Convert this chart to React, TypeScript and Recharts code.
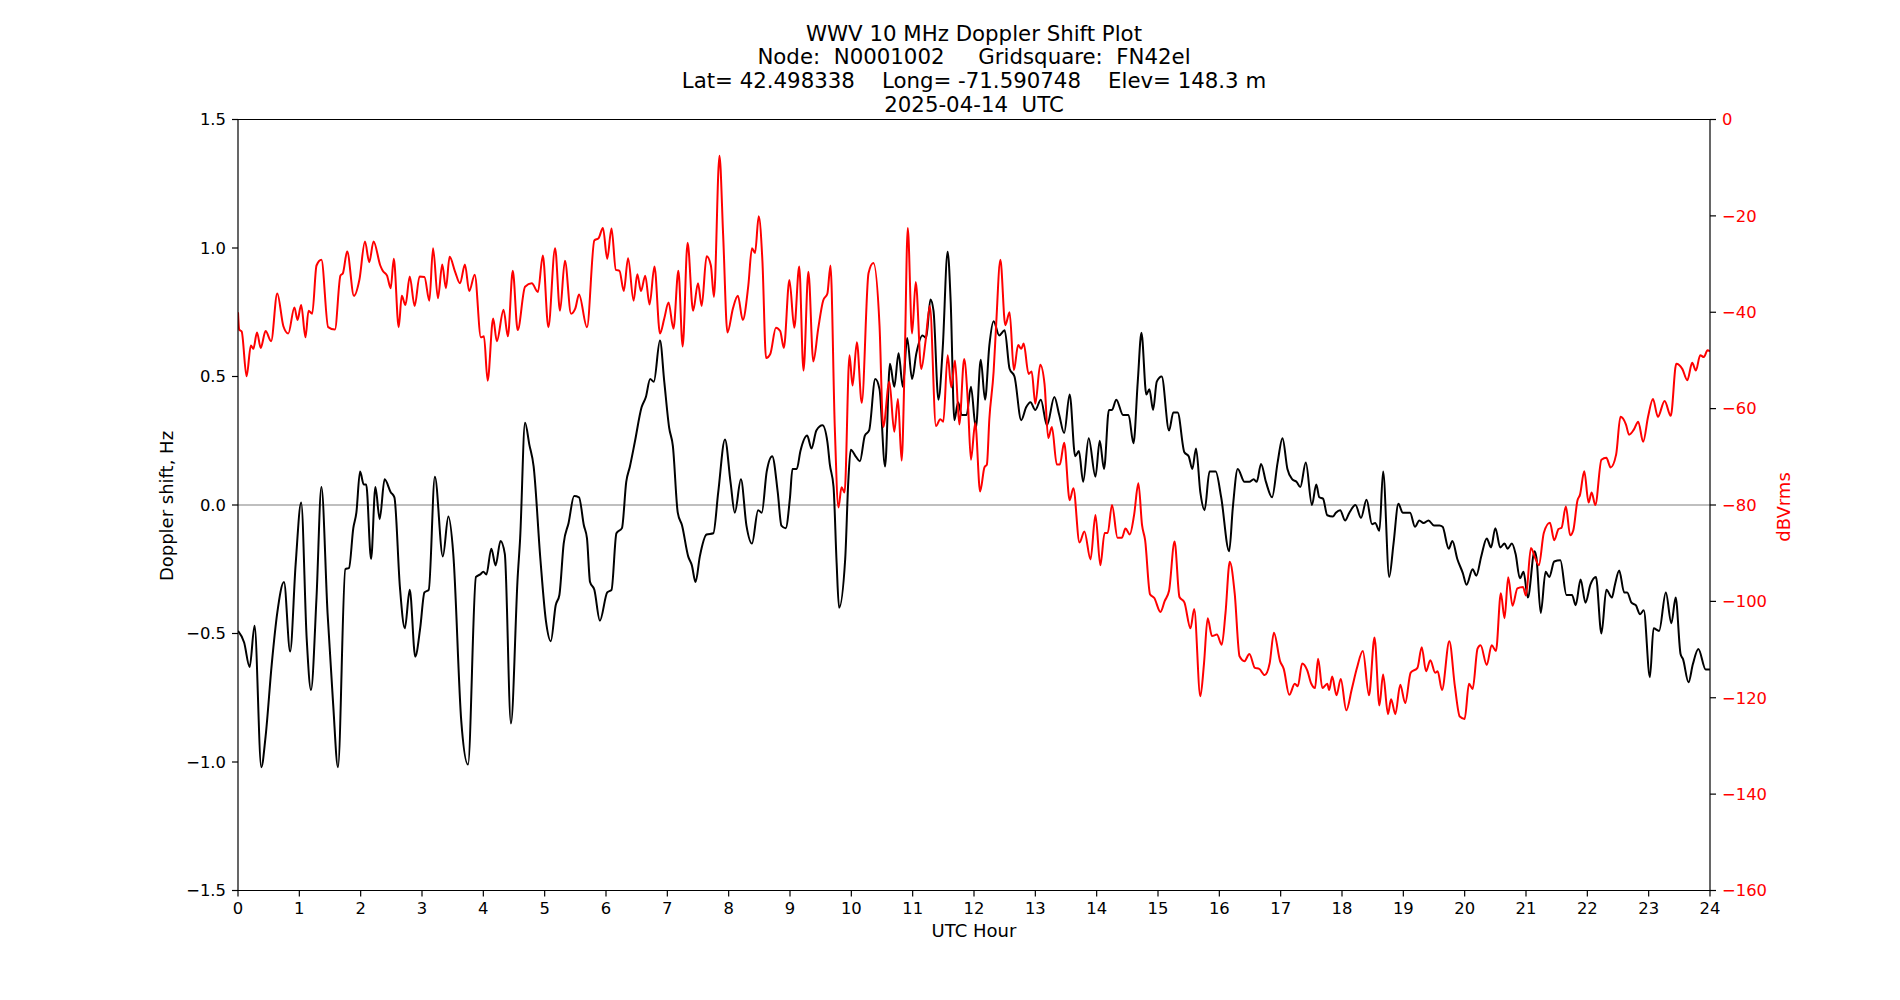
import { LineChart, Line, XAxis, YAxis, ReferenceLine } from 'recharts';

// Doppler shift trace (Hz), black, left axis
const dopplerHours = [
  0.0, 0.1, 0.19, 0.27, 0.38, 0.45, 0.55, 0.64, 0.75, 0.85, 0.94, 1.03, 1.12, 1.19, 1.28, 1.36, 1.46, 1.55, 1.63, 1.75,
  1.81, 1.88, 1.93, 1.99, 2.05, 2.09, 2.17, 2.24, 2.31, 2.39, 2.49, 2.55, 2.64, 2.72, 2.8, 2.89, 2.97, 3.04, 3.11, 3.21,
  3.34, 3.43, 3.51, 3.64, 3.75, 3.88, 3.95, 4.0, 4.05, 4.13, 4.2, 4.28, 4.35, 4.45, 4.56, 4.6, 4.68, 4.75, 4.82, 4.93,
  5.02, 5.1, 5.18, 5.24, 5.31, 5.39, 5.48, 5.56, 5.64, 5.69, 5.74, 5.81, 5.9, 6.02, 6.09, 6.17, 6.26, 6.33, 6.39, 6.47,
  6.58, 6.65, 6.72, 6.78, 6.88, 6.95, 7.03, 7.09, 7.17, 7.24, 7.34, 7.4, 7.46, 7.53, 7.64, 7.75, 7.83, 7.94, 8.03, 8.1,
  8.2, 8.29, 8.38, 8.48, 8.54, 8.62, 8.71, 8.8, 8.86, 8.93, 9.0, 9.04, 9.11, 9.17, 9.28, 9.35, 9.43, 9.53, 9.61, 9.65,
  9.71, 9.76, 9.8, 9.9, 9.95, 9.99, 10.08, 10.14, 10.22, 10.29, 10.39, 10.46, 10.55, 10.63, 10.7, 10.77, 10.84, 10.91, 10.99, 11.06,
  11.16, 11.22, 11.29, 11.34, 11.42, 11.49, 11.57, 11.62, 11.68, 11.74, 11.8, 11.88, 11.95, 12.03, 12.11, 12.18, 12.25, 12.32, 12.41, 12.5,
  12.58, 12.66, 12.77, 12.85, 12.92, 13.0, 13.09, 13.19, 13.31, 13.39, 13.47, 13.56, 13.65, 13.71, 13.78, 13.87, 13.98, 14.05, 14.12, 14.2,
  14.25, 14.32, 14.43, 14.52, 14.6, 14.67, 14.73, 14.81, 14.86, 14.92, 14.98, 15.06, 15.18, 15.25, 15.32, 15.43, 15.5, 15.56, 15.62, 15.69,
  15.76, 15.84, 15.94, 16.03, 16.16, 16.22, 16.3, 16.41, 16.49, 16.56, 16.61, 16.68, 16.76, 16.86, 16.95, 17.03, 17.11, 17.19, 17.26, 17.32,
  17.41, 17.51, 17.58, 17.63, 17.69, 17.76, 17.85, 17.9, 17.97, 18.05, 18.12, 18.22, 18.31, 18.4, 18.49, 18.54, 18.61, 18.67, 18.77, 18.84,
  18.92, 18.99, 19.11, 19.19, 19.26, 19.33, 19.41, 19.5, 19.59, 19.64, 19.74, 19.8, 19.88, 19.97, 20.03, 20.13, 20.19, 20.27, 20.36, 20.43,
  20.5, 20.58, 20.65, 20.7, 20.77, 20.83, 20.9, 20.96, 21.03, 21.14, 21.17, 21.24, 21.32, 21.38, 21.46, 21.56, 21.66, 21.75, 21.81, 21.89,
  21.97, 22.05, 22.14, 22.23, 22.31, 22.4, 22.45, 22.52, 22.6, 22.65, 22.72, 22.79, 22.86, 22.92, 23.02, 23.08, 23.17, 23.28, 23.37, 23.44,
  23.52, 23.56, 23.65, 23.72, 23.81, 23.93, 24.0,
];
const dopplerValues = [
  -0.49, -0.535, -0.63, -0.47, -1.02, -0.9, -0.62, -0.42, -0.3, -0.57, -0.23, 0.01, -0.52, -0.72, -0.36, 0.07, -0.42, -0.77, -1.02, -0.25,
  -0.245, -0.09, -0.03, 0.13, 0.08, 0.08, -0.21, 0.07, -0.055, 0.1, 0.05, 0.03, -0.32, -0.48, -0.33, -0.59, -0.48, -0.34, -0.33, 0.11,
  -0.2, -0.045, -0.19, -0.84, -1.01, -0.28, -0.27, -0.26, -0.27, -0.17, -0.235, -0.14, -0.19, -0.85, -0.28, -0.13, 0.32, 0.235, 0.15, -0.21,
  -0.45, -0.53, -0.39, -0.35, -0.15, -0.07, 0.035, 0.03, -0.08, -0.13, -0.3, -0.33, -0.45, -0.34, -0.33, -0.11, -0.09, 0.09, 0.15, 0.245,
  0.38, 0.42, 0.49, 0.48, 0.64, 0.48, 0.3, 0.23, -0.03, -0.08, -0.2, -0.235, -0.3, -0.2, -0.115, -0.11, 0.05, 0.255, 0.09, -0.03,
  0.1, -0.08, -0.15, -0.02, -0.03, 0.13, 0.19, 0.05, -0.08, -0.09, 0.03, 0.14, 0.14, 0.21, 0.27, 0.22, 0.29, 0.31, 0.245, 0.157,
  0.07, -0.225, -0.4, -0.21, 0.09, 0.215, 0.186, 0.17, 0.27, 0.29, 0.49, 0.45, 0.15, 0.55, 0.46, 0.59, 0.46, 0.65, 0.49, 0.59,
  0.66, 0.65, 0.8, 0.755, 0.41, 0.61, 0.985, 0.79, 0.33, 0.4, 0.35, 0.35, 0.46, 0.3, 0.565, 0.41, 0.62, 0.715, 0.66, 0.68,
  0.53, 0.5, 0.33, 0.38, 0.4, 0.37, 0.41, 0.31, 0.42, 0.35, 0.28, 0.43, 0.19, 0.21, 0.09, 0.26, 0.11, 0.25, 0.14, 0.37,
  0.37, 0.41, 0.35, 0.35, 0.24, 0.48, 0.67, 0.43, 0.45, 0.37, 0.48, 0.5, 0.29, 0.36, 0.36, 0.205, 0.19, 0.14, 0.22, 0.05,
  -0.02, 0.13, 0.13, 0.03, -0.18, -0.01, 0.14, 0.09, 0.09, 0.1, 0.09, 0.16, 0.09, 0.03, 0.165, 0.26, 0.14, 0.1, 0.09, 0.07,
  0.165, 0.0, 0.08, 0.03, 0.025, -0.04, -0.045, -0.03, -0.02, -0.06, -0.03, 0.0, -0.05, 0.02, -0.075, -0.07, -0.1, 0.13, -0.28, -0.15,
  0.005, -0.03, -0.03, -0.085, -0.06, -0.07, -0.06, -0.08, -0.08, -0.085, -0.17, -0.14, -0.21, -0.265, -0.31, -0.25, -0.275, -0.2, -0.13, -0.165,
  -0.09, -0.165, -0.15, -0.17, -0.15, -0.19, -0.285, -0.26, -0.36, -0.18, -0.205, -0.42, -0.26, -0.28, -0.22, -0.215, -0.35, -0.35, -0.39, -0.29,
  -0.38, -0.31, -0.28, -0.5, -0.33, -0.36, -0.31, -0.255, -0.34, -0.34, -0.38, -0.39, -0.425, -0.41, -0.67, -0.48, -0.49, -0.34, -0.46, -0.36,
  -0.58, -0.6, -0.69, -0.62, -0.56, -0.64, -0.64,
];

// Signal level trace (dBVrms), red, right axis
const powerHours = [
  0.0, 0.02, 0.06, 0.14, 0.21, 0.25, 0.31, 0.37, 0.45, 0.54, 0.64, 0.74, 0.82, 0.92, 0.97, 1.03, 1.1, 1.15, 1.21, 1.28,
  1.36, 1.47, 1.58, 1.67, 1.71, 1.78, 1.89, 1.98, 2.07, 2.14, 2.21, 2.32, 2.36, 2.43, 2.49, 2.54, 2.62, 2.67, 2.73, 2.8,
  2.88, 2.96, 3.04, 3.12, 3.18, 3.26, 3.33, 3.39, 3.45, 3.54, 3.62, 3.7, 3.77, 3.86, 3.96, 4.01, 4.07, 4.16, 4.22, 4.33,
  4.4, 4.48, 4.56, 4.68, 4.79, 4.89, 4.97, 5.06, 5.17, 5.25, 5.33, 5.43, 5.5, 5.56, 5.69, 5.81, 5.88, 5.95, 6.02, 6.09,
  6.16, 6.22, 6.29, 6.36, 6.45, 6.51, 6.57, 6.64, 6.71, 6.79, 6.88, 6.95, 7.02, 7.1, 7.18, 7.25, 7.33, 7.42, 7.5, 7.56,
  7.64, 7.71, 7.76, 7.85, 7.91, 7.98, 8.07, 8.15, 8.23, 8.32, 8.38, 8.43, 8.49, 8.55, 8.61, 8.68, 8.77, 8.84, 8.9, 8.99,
  9.07, 9.15, 9.22, 9.3, 9.38, 9.46, 9.54, 9.61, 9.66, 9.73, 9.79, 9.84, 9.89, 9.97, 10.02, 10.09, 10.17, 10.28, 10.36, 10.46,
  10.52, 10.62, 10.7, 10.76, 10.82, 10.87, 10.92, 10.99, 11.05, 11.14, 11.21, 11.28, 11.38, 11.45, 11.5, 11.57, 11.63, 11.69, 11.76, 11.84,
  11.9, 11.95, 12.02, 12.1, 12.17, 12.21, 12.25, 12.32, 12.36, 12.43, 12.51, 12.58, 12.65, 12.72, 12.77, 12.81, 12.89, 12.94, 13.0, 13.08,
  13.15, 13.21, 13.27, 13.35, 13.4, 13.47, 13.56, 13.62, 13.72, 13.8, 13.9, 13.98, 14.06, 14.13, 14.18, 14.25, 14.34, 14.41, 14.47, 14.54,
  14.61, 14.68, 14.74, 14.79, 14.87, 14.94, 15.04, 15.11, 15.18, 15.27, 15.35, 15.43, 15.53, 15.59, 15.69, 15.75, 15.81, 15.88, 15.96, 16.04,
  16.1, 16.17, 16.25, 16.33, 16.41, 16.49, 16.58, 16.65, 16.74, 16.82, 16.89, 16.99, 17.05, 17.14, 17.23, 17.28, 17.35, 17.43, 17.5, 17.56,
  17.61, 17.68, 17.76, 17.79, 17.84, 17.91, 17.98, 18.07, 18.16, 18.24, 18.34, 18.44, 18.53, 18.61, 18.67, 18.75, 18.8, 18.87, 18.95, 19.03,
  19.12, 19.23, 19.3, 19.37, 19.44, 19.52, 19.56, 19.63, 19.75, 19.84, 19.92, 20.0, 20.07, 20.13, 20.21, 20.26, 20.36, 20.44, 20.51, 20.59,
  20.65, 20.71, 20.78, 20.86, 20.95, 21.0, 21.08, 21.15, 21.21, 21.29, 21.39, 21.46, 21.53, 21.58, 21.65, 21.72, 21.77, 21.84, 21.88, 21.95,
  22.02, 22.07, 22.13, 22.23, 22.31, 22.38, 22.47, 22.54, 22.63, 22.68, 22.76, 22.83, 22.91, 22.99, 23.07, 23.15, 23.26, 23.36, 23.45, 23.55,
  23.63, 23.71, 23.77, 23.84, 23.9, 23.96, 24.0,
];
const powerValues = [
  -40, -43.6, -44, -53.3, -46.9, -47.6, -44.2, -47.4, -43.9, -46, -36.1, -42.9, -44.4, -39, -41.6, -38.5, -45.2, -39.7, -40.3, -30.3,
  -29.1, -43.1, -43.6, -32.4, -31.9, -27.4, -36.6, -33.2, -25.3, -29.6, -25.3, -30.3, -31.4, -32.4, -35, -28.9, -43.1, -36.6, -38.5, -32.6,
  -38.7, -32.6, -32.7, -37.6, -26.7, -37.1, -30.1, -35, -28.5, -31.6, -34, -30.1, -35.6, -32.2, -45.2, -45, -54.2, -41.3, -46, -39.5,
  -45, -31.4, -43.7, -34.7, -34, -35.8, -28.2, -43.1, -26.7, -39.7, -29.3, -40.3, -39.2, -36.3, -43.1, -25.1, -24.6, -22.5, -28.9, -22.6,
  -31.2, -31.4, -35.6, -28.8, -37.6, -32.1, -35.6, -32.4, -38.4, -30.5, -44.4, -41.3, -38, -43.4, -31.4, -47.1, -25.6, -39.7, -34, -38.7,
  -28.4, -30.3, -36.8, -7.5, -24, -44.2, -39.2, -36.6, -41.6, -34.5, -26.7, -27.7, -20.1, -29.3, -49.5, -48.6, -43.2, -43.9, -47.4, -33.3,
  -43.2, -30.5, -52.1, -31.6, -50.2, -43.4, -37.6, -36.1, -30.3, -63.8, -80.5, -76.3, -77.4, -48.9, -55.2, -46.2, -58.8, -31.9, -29.8, -42.9,
  -63.8, -54.4, -64.8, -58, -70.8, -50.2, -22.5, -44.4, -33.7, -51.8, -46, -38.7, -63.6, -62.2, -62.7, -48.9, -55.6, -50, -63.3, -49.7,
  -58.6, -70.6, -63, -77.2, -72.2, -71.6, -62.2, -52.3, -42.9, -29.1, -42.7, -40, -52, -46.8, -47.6, -46.5, -52.8, -52.3, -59, -50.9,
  -54.9, -66.1, -63.8, -71.6, -71.6, -67.1, -79, -76.5, -87.8, -85.5, -91.3, -82.1, -92.5, -85.8, -85.8, -80, -86.8, -86.8, -84.9, -86.1,
  -82.1, -75.5, -84.2, -87.3, -98.5, -99.3, -102.2, -99.9, -97.8, -87.6, -99.1, -100.2, -105.6, -101.6, -119.7, -112.9, -103.5, -107.2, -106.9, -109,
  -102.5, -91.8, -98.3, -111.4, -112.4, -110.9, -113.8, -114, -115.3, -112.9, -106.5, -112.4, -114, -119.4, -117.1, -117.6, -112.9, -114.2, -117.1, -118,
  -111.9, -118, -117.1, -118.4, -115.6, -119.5, -116.1, -122.6, -118.2, -114, -110.3, -119.5, -107.5, -121.6, -115.2, -123.4, -120.3, -123.4, -117.3, -121.1,
  -114.8, -113.8, -109.5, -114.5, -112.2, -114.8, -114.5, -118.4, -108.3, -117.6, -123.9, -124.4, -117.1, -118.2, -109.8, -109.1, -113.2, -109.1, -110.3, -98.3,
  -103.5, -95, -100.9, -97.3, -97, -98.8, -88.9, -91, -92.5, -85.8, -83.7, -87.3, -85, -84.7, -80.3, -86.3, -85.3, -79, -77.9, -73,
  -79.5, -77.4, -80, -70.6, -70.2, -72.2, -69.5, -61.7, -63.3, -65.4, -64.3, -62.7, -66.9, -61.7, -58, -61.7, -58.4, -61.5, -50.7, -51.8,
  -54.1, -50.5, -52.1, -48.9, -49.3, -47.9, -48.1,
];

const hourTicks = [0, 1, 2, 3, 4, 5, 6, 7, 8, 9, 10, 11, 12, 13, 14, 15, 16, 17, 18, 19, 20, 21, 22, 23, 24];
const dopplerTicks = [-1.5, -1.0, -0.5, 0.0, 0.5, 1.0, 1.5];
const powerTicks = [-160, -140, -120, -100, -80, -60, -40, -20, 0];

const titleLines = [
  'WWV 10 MHz Doppler Shift Plot',
  'Node:  N0001002     Gridsquare:  FN42el',
  'Lat= 42.498338    Long= -71.590748    Elev= 148.3 m',
  '2025-04-14  UTC',
];

// merge both traces onto one hour-sorted table, gaps bridged with connectNulls
const rows = new Map<number, { h: number; doppler?: number; power?: number }>();
dopplerHours.forEach((h, i) => {
  const r = rows.get(h) ?? { h };
  r.doppler = dopplerValues[i];
  rows.set(h, r);
});
powerHours.forEach((h, i) => {
  const r = rows.get(h) ?? { h };
  r.power = powerValues[i];
  rows.set(h, r);
});
const data = Array.from(rows.values()).sort((a, b) => a.h - b.h);

const FONT = '"DejaVu Sans", sans-serif';
const minus = (s: string) => s.replace('-', '\u2212');

export default function App() {
  return (
    <div style={{ position: 'absolute', left: 0, top: 0, width: 1900, height: 1000, background: '#fff', fontFamily: FONT }}>
      <div
        style={{
          position: 'absolute', left: 0, top: 21.5, width: 1948, textAlign: 'center',
          fontSize: 21.3, lineHeight: '23.7px', whiteSpace: 'pre', color: '#000',
        }}
      >
        {titleLines.map((t) => (
          <div key={t}>{t}</div>
        ))}
      </div>

      <LineChart
        width={1900}
        height={1000}
        data={data}
        margin={{ top: 119.5, right: 130, bottom: 79.5, left: 178 }}
        style={{ fontFamily: FONT }}
      >
        <XAxis
          dataKey="h"
          type="number"
          domain={[0, 24]}
          ticks={hourTicks}
          interval={0}
          allowDataOverflow
          tickSize={6}
          tickMargin={5.5}
          axisLine={{ stroke: '#000', strokeWidth: 1.2 }}
          tickLine={{ stroke: '#000', strokeWidth: 1.2 }}
          tick={{ fill: '#000', fontSize: 16.4 }}
        />
        <YAxis
          yAxisId="doppler"
          domain={[-1.5, 1.5]}
          ticks={dopplerTicks}
          interval={0}
          allowDataOverflow
          width={60}
          tickSize={6}
          tickMargin={6}
          axisLine={{ stroke: '#000', strokeWidth: 1.2 }}
          tickLine={{ stroke: '#000', strokeWidth: 1.2 }}
          tick={{ fill: '#000', fontSize: 16.4 }}
          tickFormatter={(v: number) => minus(v.toFixed(1))}
        />
        <YAxis
          yAxisId="power"
          orientation="right"
          domain={[-160, 0]}
          ticks={powerTicks}
          interval={0}
          allowDataOverflow
          width={60}
          tickSize={6}
          tickMargin={6}
          axisLine={{ stroke: '#000', strokeWidth: 1.2 }}
          tickLine={{ stroke: '#000', strokeWidth: 1.2 }}
          tick={{ fill: '#ff0000', fontSize: 16.4 }}
          tickFormatter={(v: number) => minus(String(v))}
        />
        <ReferenceLine yAxisId="doppler" y={0} stroke="#808080" strokeWidth={1.2} />
        <ReferenceLine yAxisId="doppler" y={1.5} stroke="#000" strokeWidth={1.2} />
        <Line
          yAxisId="doppler"
          dataKey="doppler"
          type="monotone"
          stroke="#000"
          strokeWidth={2}
          dot={false}
          connectNulls
          isAnimationActive={false}
        />
        <Line
          yAxisId="power"
          dataKey="power"
          type="monotone"
          stroke="#ff0000"
          strokeWidth={2}
          dot={false}
          connectNulls
          isAnimationActive={false}
        />
      </LineChart>

      <div
        style={{
          position: 'absolute', left: 167, top: 505.5, fontSize: 18, lineHeight: 1,
          whiteSpace: 'nowrap', transform: 'translate(-50%, -50%) rotate(-90deg)', color: '#000',
        }}
      >
        Doppler shift, Hz
      </div>
      <div
        style={{
          position: 'absolute', left: 1784, top: 507, fontSize: 18, lineHeight: 1,
          whiteSpace: 'nowrap', transform: 'translate(-50%, -50%) rotate(-90deg)', color: '#ff0000',
        }}
      >
        dBVrms
      </div>
      <div
        style={{
          position: 'absolute', left: 974, top: 931, fontSize: 18, lineHeight: 1,
          whiteSpace: 'nowrap', transform: 'translate(-50%, -50%)', color: '#000',
        }}
      >
        UTC Hour
      </div>
    </div>
  );
}
